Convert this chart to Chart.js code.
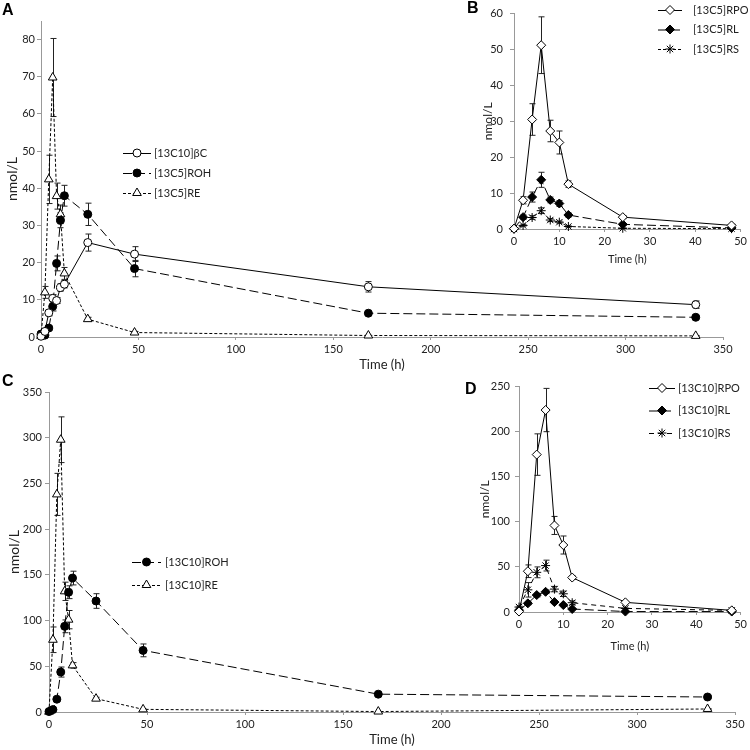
<!DOCTYPE html>
<html>
<head>
<meta charset="utf-8">
<script src="https://cdn.jsdelivr.net/npm/chart.js@4.4.0/dist/chart.umd.min.js"></script>
<style>
  body { margin: 0; background: #fff; }
  #wrap { position: relative; width: 750px; height: 750px; overflow: hidden; }
  canvas { position: absolute; }
  .tag { position: absolute; font: bold 16px "Liberation Sans", Arial, sans-serif; line-height: 16px; color: #000; }
</style>
</head>
<body>
<div id="wrap">
  <canvas id="cA" width="750" height="375" style="left:0;top:0"></canvas>
  <canvas id="cC" width="750" height="380" style="left:0;top:370px"></canvas>
  <canvas id="cB" width="280" height="270" style="left:470px;top:0"></canvas>
  <canvas id="cD" width="280" height="280" style="left:470px;top:375px"></canvas>
  <div class="tag" style="left:2px;top:2px">A</div>
  <div class="tag" style="left:467px;top:0px">B</div>
  <div class="tag" style="left:2px;top:373px">C</div>
  <div class="tag" style="left:465px;top:381px">D</div>
</div>
<script>
// sampling times (h)
const timesLong = [0, 2, 4, 6, 8, 10, 12, 24, 48, 168, 336];
const timesShort = [0, 2, 4, 6, 8, 10, 12, 24, 48];

// panel A - nmol/L, mean and error
const bcA = [0.2, 1.5, 6.5, 10.4, 9.8, 13.3, 14.2, 25.4, 22.3, 13.5, 8.7];
const bcAErr = [0.1, 0.4, 0.8, 1.0, 0.8, 1.0, 1.0, 2.3, 2.0, 1.4, 1.0];
const rohA = [0.8, 0.5, 2.4, 8.2, 19.8, 31.4, 38.0, 33.0, 18.4, 6.4, 5.3];
const rohAErr = [0.2, 0.2, 0.5, 1.2, 2.0, 2.0, 2.8, 3.0, 2.2, 0.4, 0.4];
const reA = [0.3, 12.0, 42.4, 69.8, 37.9, 33.0, 17.1, 4.8, 1.2, 0.4, 0.3];
const reAErr = [0.1, 1.6, 6.5, 10.5, 3.5, 2.5, 1.6, 0.5, 0.3, 0.1, 0.1];

// panel B
const rpoB = [0.1, 8.0, 30.5, 51.2, 27.3, 24.1, 12.5, 3.3, 1.0];
const rpoBErr = [0.1, 1.0, 4.4, 7.9, 3.0, 3.2, 0.9, 0.4, 0.3];
const rlB = [0.1, 3.3, 8.9, 13.7, 8.1, 7.1, 3.9, 1.3, 0.3];
const rlBErr = [0.05, 0.6, 1.4, 2.1, 0.8, 0.8, 0.6, 0.2, 0.1];
const rsB = [0.0, 1.0, 3.2, 5.1, 2.5, 1.9, 0.7, 0.2, 0.1];
const rsBErr = [0, 0.2, 0.5, 0.8, 0.4, 0.3, 0.2, 0.05, 0.02];

// panel C
const rohC = [0.5, 2.6, 14, 43.7, 93.7, 131, 146.5, 121.4, 67.4, 19.5, 16.4];
const rohCErr = [0.2, 0.8, 2, 5.5, 7, 7, 7.5, 8, 7, 1.5, 1.5];
const reC = [0.3, 79, 238, 297.8, 132, 101, 51, 14.6, 2.9, 0.5, 3.3];
const reCErr = [0.1, 14, 23, 25, 10, 10, 3, 1.5, 0.5, 0.1, 0.3];

// panel D
const rpoD = [0.5, 45.2, 174.6, 224, 96, 74.3, 38.2, 10.7, 1.8];
const rpoDErr = [0.3, 7, 23, 24, 10, 10, 2, 1, 0.5];
const rlD = [2, 9.6, 18.8, 22.4, 11, 7.7, 3.3, 0.5, 0.5];
const rlDErr = [0.5, 1.5, 2, 2, 1.5, 1, 0.5, 0.2, 0.2];
const rsD = [5.5, 24.6, 44, 51.5, 25.4, 20.2, 10.3, 4, 1.8];
const rsDErr = [1, 8, 6, 6, 3, 3, 2, 0.5, 0.3];

Chart.defaults.font.family = 'Lato, "Noto Sans", sans-serif';
Chart.defaults.color = '#222';

function pts(xs, ys) {
  return xs.map((x, i) => ({ x: x, y: ys[i] }));
}

// line look of every series kind
function series(label, xs, ys, errs, kind) {
  const base = {
    label: label, data: pts(xs, ys), errors: errs,
    borderColor: '#000', borderWidth: 1, tension: 0, clip: false,
    pointBorderColor: '#000', pointBorderWidth: 1, pointBackgroundColor: '#fff'
  };
  if (kind == 'openCircle') Object.assign(base, { pointStyle: 'circle', pointRadius: 4 });
  if (kind == 'dotCircle') Object.assign(base, { pointStyle: 'circle', pointRadius: 4, borderDash: [9, 4], pointBackgroundColor: '#000' });
  if (kind == 'triangle') Object.assign(base, { pointStyle: 'triangle', pointRadius: 5, borderDash: [3, 2] });
  if (kind == 'openDiamond') Object.assign(base, { pointStyle: 'rectRot', pointRadius: 4.5 });
  if (kind == 'dotDiamond') Object.assign(base, { pointStyle: 'rectRot', pointRadius: 4.5, borderDash: [9, 4], pointBackgroundColor: '#000' });
  if (kind == 'starShort') Object.assign(base, { pointStyle: 'star', pointRadius: 4.5, borderDash: [3, 2] });
  if (kind == 'starMid') Object.assign(base, { pointStyle: 'star', pointRadius: 4.5, borderDash: [5, 4] });
  return base;
}

// vertical error bars with caps, under the markers
const errorBars = {
  id: 'errorBars',
  beforeDatasetsDraw(chart) {
    const ctx = chart.ctx, xs = chart.scales.x, ys = chart.scales.y;
    ctx.save();
    ctx.strokeStyle = '#222';
    ctx.lineWidth = 1;
    chart.data.datasets.forEach(ds => {
      if (!ds.errors) return;
      ds.data.forEach((p, i) => {
        const e = ds.errors[i];
        if (!e) return;
        const x = Math.round(xs.getPixelForValue(p.x)) + 0.5;
        const yt = ys.getPixelForValue(p.y + e);
        const yb = ys.getPixelForValue(Math.max(0, p.y - e));
        ctx.beginPath();
        ctx.moveTo(x, yt); ctx.lineTo(x, yb);
        ctx.moveTo(x - 3, yt); ctx.lineTo(x + 3, yt);
        ctx.moveTo(x - 3, yb); ctx.lineTo(x + 3, yb);
        ctx.stroke();
      });
    });
    ctx.restore();
  }
};

// legend drawn as line + marker + text, like the spreadsheet legend
const lineLegend = {
  id: 'lineLegend',
  afterDraw(chart, args, opts) {
    const ctx = chart.ctx;
    chart.data.datasets.forEach((ds, i) => {
      const y = opts.y + i * opts.gap;
      ctx.save();
      ctx.strokeStyle = '#000';
      ctx.lineWidth = 1;
      ctx.setLineDash(ds.borderDash || []);
      ctx.beginPath();
      ctx.moveTo(opts.x0, y + 0.5);
      ctx.lineTo(opts.x1, y + 0.5);
      ctx.stroke();
      ctx.setLineDash([]);
      ctx.fillStyle = ds.pointBackgroundColor;
      ctx.strokeStyle = ds.pointBorderColor;
      ctx.lineWidth = 1;
      Chart.helpers.drawPoint(ctx, { pointStyle: ds.pointStyle, radius: ds.pointRadius, rotation: 0, borderWidth: 1 }, (opts.x0 + opts.x1) / 2, y);
      ctx.fillStyle = '#222';
      ctx.font = '11px Lato, "Noto Sans", sans-serif';
      ctx.textBaseline = 'middle';
      ctx.fillText(ds.label, opts.tx, y);
      ctx.restore();
    });
  }
};

function buildPanel(id, o) {
  return new Chart(document.getElementById(id), {
    type: 'line',
    data: { datasets: o.datasets },
    options: {
      responsive: false,
      animation: false,
      devicePixelRatio: 1,
      layout: { padding: { left: 0, top: o.area.t, right: o.W - o.area.r, bottom: 0 } },
      plugins: {
        legend: { display: false },
        tooltip: { enabled: false },
        lineLegend: o.legend
      },
      scales: {
        x: {
          type: 'linear', min: 0, max: o.xMax,
          grid: { drawOnChartArea: false, drawTicks: true, tickLength: 3, color: '#999' },
          border: { color: '#999' },
          ticks: { stepSize: o.xStep, autoSkip: false, maxRotation: 0, padding: 3, font: { size: 11 } },
          title: { display: true, text: 'Time (h)', font: { size: o.xTitleSize }, padding: { top: 0, bottom: o.xTitlePad } },
          afterFit: s => { s.height = o.H - o.area.b; }
        },
        y: {
          type: 'linear', min: 0, max: o.yMax,
          grid: { drawOnChartArea: false, drawTicks: true, tickLength: 4, color: '#999' },
          border: { color: '#999' },
          ticks: { stepSize: o.yStep, autoSkip: false, padding: o.yTickPad, font: { size: 11 } },
          afterBuildTicks: s => { s.ticks = s.ticks.filter(t => Math.abs(t.value / o.yStep - Math.round(t.value / o.yStep)) < 1e-6); },
          title: { display: true, text: 'nmol/L', font: { size: o.yTitleSize }, padding: { top: o.yTitlePad, bottom: 0 } },
          afterFit: s => { s.width = o.area.l; }
        }
      }
    },
    plugins: [errorBars, lineLegend]
  });
}

buildPanel('cA', {
  W: 750, H: 375, area: { l: 41, t: 21, r: 723, b: 337 },
  xMax: 350, xStep: 50, yMax: 85, yStep: 10, yTickPad: 2,
  xTitleSize: 13, xTitlePad: 2, yTitleSize: 14, yTitlePad: 4,
  legend: { x0: 123, x1: 151, tx: 154, y: 153, gap: 20 },
  datasets: [
    series('[13C10]βC', timesLong, bcA, bcAErr, 'openCircle'),
    series('[13C5]ROH', timesLong, rohA, rohAErr, 'dotCircle'),
    series('[13C5]RE', timesLong, reA, reAErr, 'triangle')
  ]
});

buildPanel('cB', {
  W: 280, H: 270, area: { l: 44, t: 7, r: 271, b: 229 },
  xMax: 50, xStep: 10, yMax: 60, yStep: 10, yTickPad: 7,
  xTitleSize: 11, xTitlePad: 4, yTitleSize: 12, yTitlePad: 11,
  legend: { x0: 188, x1: 212, tx: 223, y: 10, gap: 19.5 },
  datasets: [
    series('[13C5]RPO', timesShort, rpoB, rpoBErr, 'openDiamond'),
    series('[13C5]RL', timesShort, rlB, rlBErr, 'dotDiamond'),
    series('[13C5]RS', timesShort, rsB, rsBErr, 'starShort')
  ]
});

buildPanel('cC', {
  W: 750, H: 380, area: { l: 49, t: 22, r: 735, b: 342 },
  xMax: 350, xStep: 50, yMax: 350, yStep: 50, yTickPad: 3,
  xTitleSize: 13, xTitlePad: 2, yTitleSize: 14, yTitlePad: 6,
  legend: { x0: 132, x1: 161, tx: 165, y: 192, gap: 23 },
  datasets: [
    series('[13C10]ROH', timesLong, rohC, rohCErr, 'dotCircle'),
    series('[13C10]RE', timesLong, reC, reCErr, 'triangle')
  ]
});

buildPanel('cD', {
  W: 280, H: 280, area: { l: 49, t: 11, r: 272, b: 237 },
  xMax: 50, xStep: 10, yMax: 250, yStep: 50, yTickPad: 5,
  xTitleSize: 11, xTitlePad: 2, yTitleSize: 12, yTitlePad: 8,
  legend: { x0: 179, x1: 205, tx: 208, y: 13, gap: 22.5 },
  datasets: [
    series('[13C10]RPO', timesShort, rpoD, rpoDErr, 'openDiamond'),
    series('[13C10]RL', timesShort, rlD, rlDErr, 'dotDiamond'),
    series('[13C10]RS', timesShort, rsD, rsDErr, 'starMid')
  ]
});
</script>
</body>
</html>
